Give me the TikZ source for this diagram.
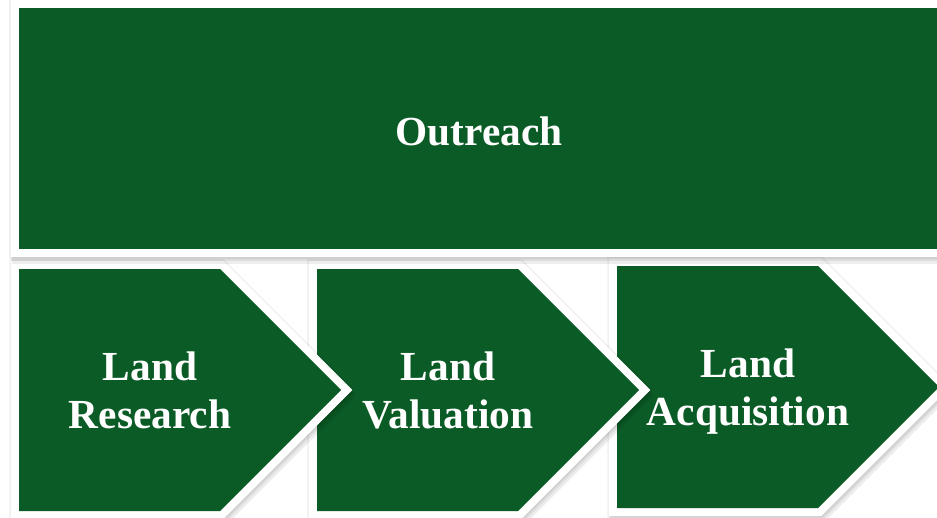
\documentclass[tikz,border=0pt]{standalone}
\usepackage{fontspec}
\setmainfont{Liberation Serif}

\definecolor{leafgreen}{RGB}{11,91,38}

% one step of the process, 45 degree point
\newcommand{\chevronpath}[2]{(#1,#2) -- (#1+201,#2) -- (#1+322,#2+121) -- (#1+201,#2+242) -- (#1,#2+242) -- cycle}

\tikzset{
    whiteframe/.style={draw=white, fill=white, line width=12pt, line join=miter},
    softshadow/.style={draw=black, fill=black, line width=13pt, line join=miter, opacity=0.07},
    halo/.style={draw=black, fill=black, line width=14.5pt, line join=miter, opacity=0.06},
    greenfill/.style={fill=leafgreen},
    boxtext/.style={text=white, align=center, text depth=0pt, font=\bfseries\fontsize{31}{36}\selectfont},
}

\begin{document}
\begin{tikzpicture}[x=0.75pt, y=-0.75pt]

    \useasboundingbox (0,0) rectangle (937,517);
    \fill[white] (0,0) rectangle (937,517);
    \clip (0,0) rectangle (937,517);

    % the three steps, last one first so that each point lies on the next box
    \foreach \x/\y/\n/\t in {617/266/3/{Land\\Acquisition}, 317/269/2/{Land\\Valuation}, 19/269/1/{Land\\Research}} {
        \path[halo] \chevronpath{\x}{\y};
        \path[softshadow] \chevronpath{\x+1}{\y+3};
        \path[softshadow] \chevronpath{\x+2}{\y+6};
        \path[whiteframe] \chevronpath{\x}{\y};
        \path[greenfill] \chevronpath{\x}{\y};
        \node[boxtext] (step\n) at (\x+131,\y+121) {\t};
    }

    % outreach box over the top
    \path[halo] (19,8) rectangle (960,249);
    \path[softshadow] (20,11) rectangle (960,252);
    \path[softshadow] (21,14) rectangle (960,255);
    \path[whiteframe] (19,8) rectangle (960,249);
    \path[greenfill] (19,8) rectangle (960,249);
    \node[boxtext] (outreach) at (479,131) {Outreach};

\end{tikzpicture}
\end{document}
